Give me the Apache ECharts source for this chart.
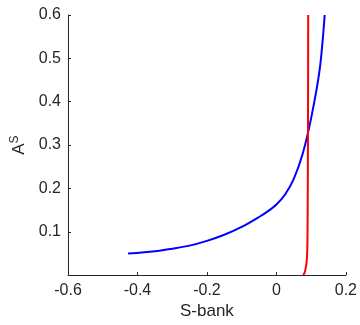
<!DOCTYPE html>
<html>
<head>
<meta charset="utf-8">
<script src="https://cdn.jsdelivr.net/npm/echarts@6/dist/echarts.min.js"></script>
<style>
html, body { margin: 0; padding: 0; background: #fff; }
#main { width: 360px; height: 325px; }
</style>
</head>
<body>
<div id="main"></div>
<script>
// blue curve (x = S-bank, y = A^S)
var blueX = [-0.427, -0.35, -0.3, -0.25, -0.2, -0.15, -0.1, -0.05, -0.025, 0, 0.025, 0.05, 0.075, 0.1, 0.125, 0.139];
var blueY = [0.0496, 0.055, 0.061, 0.068, 0.079, 0.093, 0.111, 0.134, 0.147, 0.163, 0.186, 0.222, 0.278, 0.362, 0.477, 0.6];
// red curve
var redX = [0.077, 0.081, 0.084, 0.087, 0.089, 0.090, 0.091, 0.0915];
var redY = [0, 0.005, 0.015, 0.03, 0.06, 0.15, 0.35, 0.6];

var xTicks = [-0.6, -0.4, -0.2, 0, 0.2];

function pairs(xs, ys) {
    return xs.map(function (x, i) { return [x, ys[i]]; });
}

var font = "'Liberation Sans', Arial, Helvetica, sans-serif";
var axisCol = '#262626';

var myChart = echarts.init(document.getElementById('main'));
var option = {
    animation: false,
    grid: { left: 68, right: 13, top: 15, bottom: 40 },
    xAxis: {
        type: 'value',
        min: -0.6,
        max: 0.2,
        interval: 0.2,
        name: 'S-bank',
        nameLocation: 'middle',
        nameGap: 22,
        nameTextStyle: { fontFamily: font, fontSize: 17, color: axisCol },
        axisLine: { onZero: false, lineStyle: { color: axisCol, width: 1 } },
        axisTick: { inside: true, length: 3, lineStyle: { color: axisCol } },
        axisLabel: {
            margin: 7, fontFamily: font, fontSize: 16, color: axisCol,
            formatter: function (v) {
                var t = xTicks.find(function (k) { return Math.abs(k - v) < 1e-9; });
                return t === undefined ? '' : (t === 0 ? '0' : String(t));
            }
        },
        splitLine: { show: false }
    },
    yAxis: {
        type: 'value',
        min: 0,
        max: 0.6,
        interval: 0.1,
        name: '{a|A}{s|S}',
        nameLocation: 'middle',
        nameRotate: 90,
        nameGap: 38,
        nameTextStyle: {
            fontFamily: font, color: axisCol,
            rich: {
                a: { fontFamily: font, fontSize: 17, color: axisCol },
                s: { fontFamily: font, fontSize: 12, color: axisCol, padding: [0, 0, 9, 0] }
            }
        },
        axisLine: { show: true, onZero: false, lineStyle: { color: axisCol, width: 1 } },
        axisTick: { show: true, inside: true, length: 3, lineStyle: { color: axisCol } },
        axisLabel: {
            margin: 7, fontFamily: font, fontSize: 16, color: axisCol,
            showMinLabel: false,
            formatter: function (v) { return v.toFixed(1); }
        },
        splitLine: { show: false }
    },
    series: [
        {
            name: 'blue',
            type: 'line',
            data: pairs(blueX, blueY),
            smooth: 0.3,
            showSymbol: false,
            lineStyle: { color: '#0000ff', width: 2 }
        },
        {
            name: 'red',
            type: 'line',
            data: pairs(redX, redY),
            smooth: 0.3,
            showSymbol: false,
            lineStyle: { color: '#ff0000', width: 2 }
        }
    ]
};
myChart.setOption(option);
</script>
</body>
</html>
